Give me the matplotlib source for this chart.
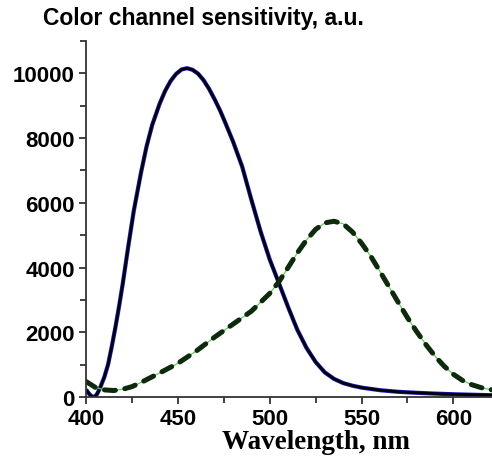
import matplotlib.pyplot as plt
from matplotlib.ticker import MultipleLocator

# blue channel sensitivity (nm, a.u.)
wl_blue = [400, 401, 402, 403, 404, 405, 406, 407, 408, 410, 412, 414, 416, 418, 420,
           423, 426, 430, 433, 436, 440, 443, 446, 449, 452, 455, 458, 461, 464, 467,
           470, 473, 476, 480, 485, 490, 495, 500, 505, 510, 515, 520, 525, 530, 535,
           540, 545, 550, 560, 570, 580, 590, 600, 610, 621]
blue = [230, 150, 80, 25, 0, 15, 90, 200, 330, 620, 1000, 1550, 2150, 2800, 3500,
        4650, 5750, 6950, 7750, 8400, 9050, 9450, 9760, 9980, 10120, 10160, 10110,
        9990, 9790, 9520, 9200, 8850, 8450, 7900, 7120, 6100, 5120, 4250, 3520, 2780,
        2080, 1520, 1080, 760, 560, 430, 350, 290, 210, 160, 130, 105, 85, 70, 55]

# green channel sensitivity (nm, a.u.)
wl_green = [400, 405, 410, 415, 420, 425, 430, 440, 450, 460, 470, 480, 490, 500,
            505, 510, 515, 520, 525, 530, 535, 540, 545, 550, 555, 560, 565, 570,
            575, 580, 585, 590, 595, 600, 605, 610, 615, 621]
green = [480, 300, 220, 200, 240, 320, 450, 740, 1040, 1420, 1850, 2250, 2650, 3200,
         3560, 4000, 4450, 4850, 5180, 5380, 5430, 5350, 5100, 4750, 4350, 3880, 3400,
         2920, 2450, 2020, 1620, 1260, 950, 700, 510, 380, 290, 220]

fig = plt.figure(figsize=(4.92, 4.64), dpi=100)
ax = fig.add_axes([86/492, 66/464, 406/492, 356/464])

ax.plot(wl_blue, blue, color='#1a1acc', lw=3.0, solid_capstyle='butt')
ax.plot(wl_blue, blue, color='black', lw=1.9, solid_capstyle='butt')
ax.plot(wl_green, green, color='#66cc66', lw=0.9)
ax.plot(wl_green, green, color='#0d2a0d', lw=3.6, linestyle=(0, (2.2, 1.9)),
        dash_capstyle='round')

ax.set_xlim(400, 621)
ax.set_ylim(0, 11000)
ax.xaxis.set_major_locator(MultipleLocator(50))
ax.xaxis.set_minor_locator(MultipleLocator(25))
ax.yaxis.set_major_locator(MultipleLocator(2000))
ax.yaxis.set_minor_locator(MultipleLocator(1000))

for s in ['top', 'right']:
    ax.spines[s].set_visible(False)
for s in ['left', 'bottom']:
    ax.spines[s].set_color('#333333')
    ax.spines[s].set_linewidth(1.3)
ax.tick_params(which='major', direction='out', length=5, width=1.3, color='#333333', pad=3)
ax.tick_params(which='minor', direction='out', length=4, width=1.3, color='#333333')
for lab in ax.get_xticklabels() + ax.get_yticklabels():
    lab.set_fontfamily('Liberation Sans')
    lab.set_fontweight('bold')
    lab.set_fontsize(16)

fig.text(43/492, 1 - 7/464, 'Color channel sensitivity, a.u.', ha='left', va='top',
         fontfamily='Liberation Sans', fontweight='bold', fontsize=16.5)
fig.text(316/492, 1 - 430/464, 'Wavelength, nm', ha='center', va='top',
         fontfamily='Liberation Serif', fontweight='bold', fontsize=19.5)

fig.savefig('out.png', dpi=100)
